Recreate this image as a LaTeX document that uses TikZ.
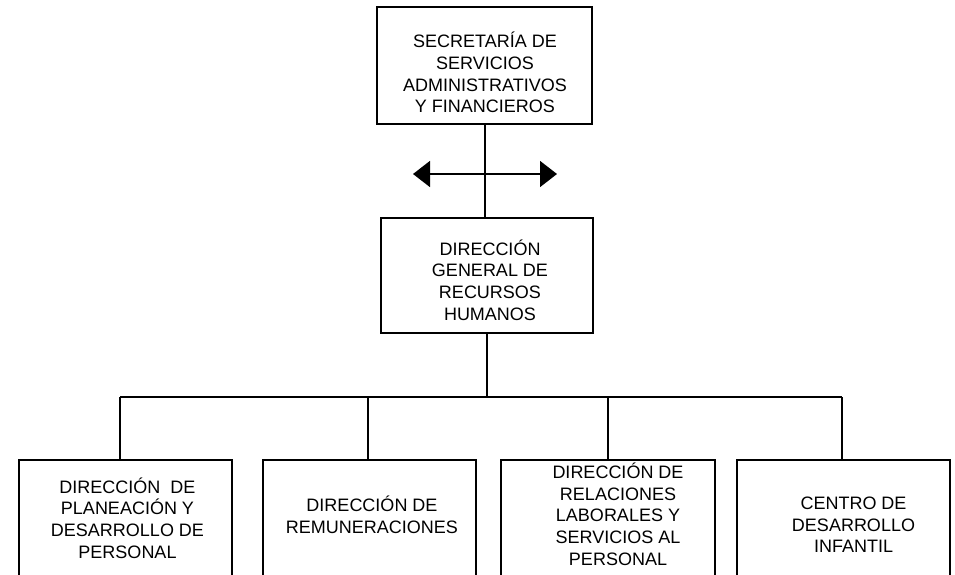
\documentclass[tikz,border=0pt]{standalone}
\usepackage{fontspec}
\setmainfont{Liberation Sans}
\usetikzlibrary{arrows.meta}
\tikzset{
  box/.style={draw, line width=1.5pt, inner sep=0pt, rectangle},
  txt/.style={align=center, inner sep=0pt, font=\fontsize{18}{21.7}\selectfont},
  conn/.style={line width=1.5pt},
  dblarrow/.style={line width=1.5pt, {Triangle[length=17pt,width=26pt]}-{Triangle[length=17pt,width=26pt]}}
}
\begin{document}
\begin{tikzpicture}[x=1pt,y=-1pt]
\useasboundingbox (0,0) rectangle (955,574);
\clip (0,0) rectangle (955,574);
% boxes
\node[box, minimum width=215pt, minimum height=117pt] (sec) at (484.5,65.5) {};
\node[box, minimum width=212pt, minimum height=115pt] (dg) at (487,275.5) {};
\node[box, minimum width=213pt, minimum height=140pt] (b1) at (125.5,530) {};
\node[box, minimum width=213pt, minimum height=140pt] (b2) at (369.5,530) {};
\node[box, minimum width=214pt, minimum height=140pt] (b3) at (608,530) {};
\node[box, minimum width=213pt, minimum height=140pt] (b4) at (843.5,530) {};
% texts
\node[txt] (tsec) at (485,72.5) {SECRETARÍA DE\\SERVICIOS\\ADMINISTRATIVOS\\Y FINANCIEROS};
\node[txt] (tdg) at (490,280) {DIRECCIÓN\\GENERAL DE\\RECURSOS\\HUMANOS};
\node[txt] (tb1) at (127.5,518) {DIRECCIÓN\ \ DE\\PLANEACIÓN Y\\DESARROLLO DE\\PERSONAL};
\node[txt] (tb2) at (372,515) {DIRECCIÓN DE\\REMUNERACIONES};
\node[txt] (tb3) at (618,514) {DIRECCIÓN DE\\RELACIONES\\LABORALES Y\\SERVICIOS AL\\PERSONAL};
\node[txt] (tb4) at (853.5,525) {CENTRO DE\\DESARROLLO\\INFANTIL};
% connectors
\coordinate (j1) at (120,397);
\coordinate (j2) at (368,397);
\coordinate (j3) at (608,397);
\coordinate (j4) at (842,397);
\coordinate (al) at (413,174);
\coordinate (ar) at (557,174);
\draw[conn] (485,0 |- sec.south) -- (485,0 |- dg.north);
\draw[conn] (dg.south) -- (dg.south |- j1);
\draw[conn] (j1) -- (j4);
\draw[conn] (j1) -- (j1 |- b1.north);
\draw[conn] (j2) -- (j2 |- b2.north);
\draw[conn] (j3) -- (j3 |- b3.north);
\draw[conn] (j4) -- (j4 |- b4.north);
\draw[dblarrow] (al) -- (ar);
\end{tikzpicture}
\end{document}
